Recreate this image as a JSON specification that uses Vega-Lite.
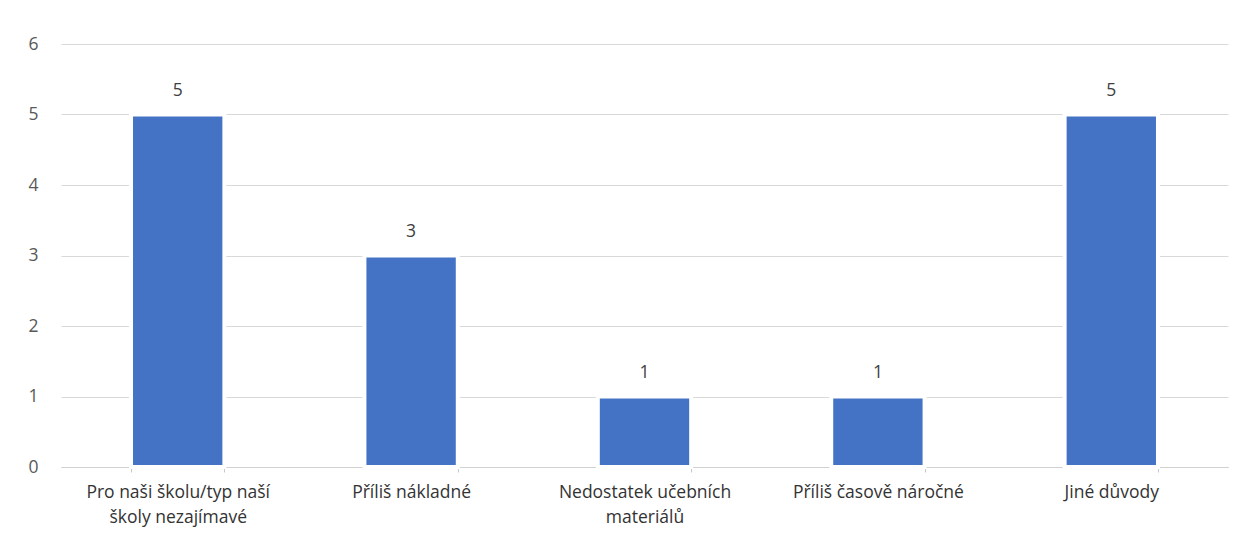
{
  "$schema": "https://vega.github.io/schema/vega-lite/v6.json",
  "autosize": "none",
  "width": 1167,
  "height": 423,
  "padding": {"left": 61, "top": 44, "right": 18, "bottom": 83},
  "background": "white",
  "config": {
    "view": {"stroke": null},
    "font": "Open Sans",
    "axis": {"labelFont": "Open Sans", "labelColor": "#333333", "labelFontSize": 17.5}
  },
  "data": {
    "values": [
      {"reason": "Pro naši školu/typ naší školy nezajímavé", "count": 5},
      {"reason": "Příliš nákladné", "count": 3},
      {"reason": "Nedostatek učebních materiálů", "count": 1},
      {"reason": "Příliš časově náročné", "count": 1},
      {"reason": "Jiné důvody", "count": 5}
    ]
  },
  "encoding": {
    "x": {
      "field": "reason",
      "type": "nominal",
      "sort": null,
      "title": null,
      "scale": {"paddingInner": 0.6, "paddingOuter": 0.3},
      "axis": {
        "labelAngle": 0,
        "labelLimit": 300,
        "domainColor": "#D0D0D0",
        "ticks": true,
        "tickColor": "#C8C8C8",
        "tickSize": 5,
        "tickBand": "extent",
        "labelPadding": 11,
        "labelLineHeight": 25,
        "labelBaseline": "top",
        "labelExpr": "datum.value == 'Pro naši školu/typ naší školy nezajímavé' ? ['Pro naši školu/typ naší', 'školy nezajímavé'] : datum.value == 'Nedostatek učebních materiálů' ? ['Nedostatek učebních', 'materiálů'] : datum.value"
      }
    },
    "y": {
      "field": "count",
      "type": "quantitative",
      "title": null,
      "scale": {"domain": [0, 6]},
      "axis": {
        "values": [0, 1, 2, 3, 4, 5, 6],
        "labelOverlap": false,
        "domain": false,
        "ticks": false,
        "gridColor": "#D9D9D9",
        "labelColor": "#595959",
        "labelPadding": 23
      }
    }
  },
  "layer": [
    {
      "mark": {"type": "bar", "color": "#4472C4", "stroke": "white", "strokeWidth": 4}
    },
    {
      "mark": {"type": "text", "baseline": "middle", "dy": -24, "fontSize": 17.5, "color": "#404040"},
      "encoding": {"text": {"field": "count", "type": "quantitative"}}
    }
  ]
}
